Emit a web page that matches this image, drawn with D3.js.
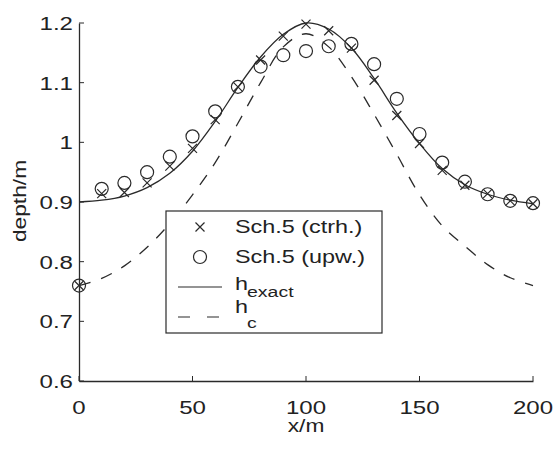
<!DOCTYPE html>
<html>
<head>
<meta charset="utf-8">
<script src="https://cdn.jsdelivr.net/npm/d3@7"></script>
<style>
  html, body { margin: 0; padding: 0; background: #fff; }
  svg { display: block; }
  text { font-family: "Liberation Sans", Arial, Helvetica, sans-serif; fill: #222; }
</style>
</head>
<body>
<svg id="chart" width="558" height="450"></svg>
<script>
// ---- data ----
const xPositions = [0,10,20,30,40,50,60,70,80,90,100,110,120,130,140,150,160,170,180,190,200];
const hExact = [0.900,0.903,0.910,0.924,0.948,0.985,1.035,1.092,1.143,1.181,1.200,1.190,1.158,1.107,1.049,0.998,0.956,0.929,0.913,0.903,0.897];
const hCritical = [0.760,0.772,0.793,0.824,0.864,0.912,0.966,1.032,1.100,1.160,1.182,1.160,1.110,1.047,0.980,0.912,0.860,0.826,0.795,0.773,0.760];
const sch5Ctrh = [0.760,0.914,0.916,0.932,0.960,0.990,1.038,1.093,1.138,1.178,1.198,1.187,1.158,1.104,1.045,0.998,0.953,0.928,0.914,0.902,0.897];
const sch5Upw = [0.760,0.922,0.932,0.950,0.976,1.010,1.052,1.093,1.127,1.146,1.153,1.161,1.165,1.131,1.073,1.014,0.966,0.934,0.913,0.902,0.898];
const xTicks = [0,50,100,150,200];
const yTicks = [0.6,0.7,0.8,0.9,1.0,1.1,1.2];
const yTickLabels = ["0.6","0.7","0.8","0.9","1","1.1","1.2"];
const legendLabels = ["Sch.5 (ctrh.)","Sch.5 (upw.)","h","h"];
const legendSubs = ["","","exact","c"];

// ---- setup ----
const svg = d3.select("#chart");
const ink = "#2a2a2a";
const SX = 1.3; // horizontal stretch of glyphs as in reference
const x = d3.scaleLinear().domain([0,200]).range([79,533]);
const y = d3.scaleLinear().domain([0.6,1.2]).range([381,23]);

function label(g, str, tx, ty, size, anchor, rot) {
  return g.append("text")
    .attr("transform", `translate(${tx},${ty})` + (rot ? ` rotate(${rot})` : "") + ` scale(${SX},1)`)
    .attr("text-anchor", anchor || "start")
    .attr("font-size", size)
    .text(str);
}

// ---- axes ----
const axG = svg.append("g");
const xAxis = d3.axisBottom(x).tickValues(xTicks).tickSize(0).tickFormat("");
const yAxis = d3.axisLeft(y).tickValues(yTicks).tickSize(0).tickFormat("");
axG.append("g").attr("transform","translate(0,381)").call(xAxis)
  .call(g => g.select(".domain").attr("stroke", ink).attr("stroke-width",1.3));
axG.append("g").attr("transform","translate(79,0)").call(yAxis)
  .call(g => g.select(".domain").attr("stroke", ink).attr("stroke-width",1.3));
// inward ticks
axG.selectAll(".xt").data(xTicks).join("line")
  .attr("x1", d => x(d)).attr("x2", d => x(d))
  .attr("y1", 381).attr("y2", 376).attr("stroke", ink).attr("stroke-width",1);
axG.selectAll(".yt").data(yTicks).join("line")
  .attr("x1", 79).attr("x2", 84)
  .attr("y1", d => y(d)).attr("y2", d => y(d)).attr("stroke", ink).attr("stroke-width",1);
// tick labels
xTicks.forEach(t => label(axG, String(t), x(t), 414, 18.5, "middle"));
yTicks.forEach((t,i) => label(axG, yTickLabels[i], 73, y(t) + 7, 18.5, "end"));
// axis titles
label(axG, "x/m", 306, 432, 17.5, "middle");
label(axG, "depth/m", 26, 201, 17.5, "middle", -90);

// ---- lines ----
const pts = arr => xPositions.map((xv,i) => [xv, arr[i]]);
const line = d3.line().x(d => x(d[0])).y(d => y(d[1])).curve(d3.curveCatmullRom.alpha(0.5));
svg.append("path").attr("d", line(pts(hCritical)))
  .attr("fill","none").attr("stroke", ink).attr("stroke-width",1.3)
  .attr("stroke-dasharray","12,11");
svg.append("path").attr("d", line(pts(hExact)))
  .attr("fill","none").attr("stroke", ink).attr("stroke-width",1.3);

// ---- markers ----
function cross(g, cx, cy, s) {
  g.append("path").attr("d", `M${cx-s},${cy-s}L${cx+s},${cy+s}M${cx-s},${cy+s}L${cx+s},${cy-s}`)
    .attr("stroke", ink).attr("stroke-width",1.2).attr("fill","none");
}
const mk = svg.append("g");
pts(sch5Ctrh).forEach(d => cross(mk, x(d[0]), y(d[1]), 4.5));
mk.selectAll("circle").data(pts(sch5Upw)).join("circle")
  .attr("cx", d => x(d[0])).attr("cy", d => y(d[1])).attr("r", 6.5)
  .attr("fill","none").attr("stroke", ink).attr("stroke-width",1.2);

// ---- legend ----
const lg = svg.append("g");
lg.append("rect").attr("x",166).attr("y",211).attr("width",216).attr("height",122)
  .attr("fill","#fff").attr("stroke", ink).attr("stroke-width",1.2);
cross(lg, 200, 227, 4.5);
lg.append("circle").attr("cx",200).attr("cy",257).attr("r",6.5)
  .attr("fill","none").attr("stroke", ink).attr("stroke-width",1.2);
lg.append("line").attr("x1",178).attr("x2",222).attr("y1",287).attr("y2",287)
  .attr("stroke", ink).attr("stroke-width",1.2);
lg.append("line").attr("x1",178).attr("x2",224).attr("y1",317).attr("y2",317)
  .attr("stroke", ink).attr("stroke-width",1.2).attr("stroke-dasharray","12,17");
label(lg, legendLabels[0], 235, 233, 18, "start");
label(lg, legendLabels[1], 235, 263, 18, "start");
label(lg, legendLabels[2], 235, 290, 18, "start");
label(lg, legendSubs[2], 247, 297, 15, "start");
label(lg, legendLabels[3], 235, 313, 18, "start");
label(lg, legendSubs[3], 247, 328, 15, "start");
</script>
</body>
</html>
